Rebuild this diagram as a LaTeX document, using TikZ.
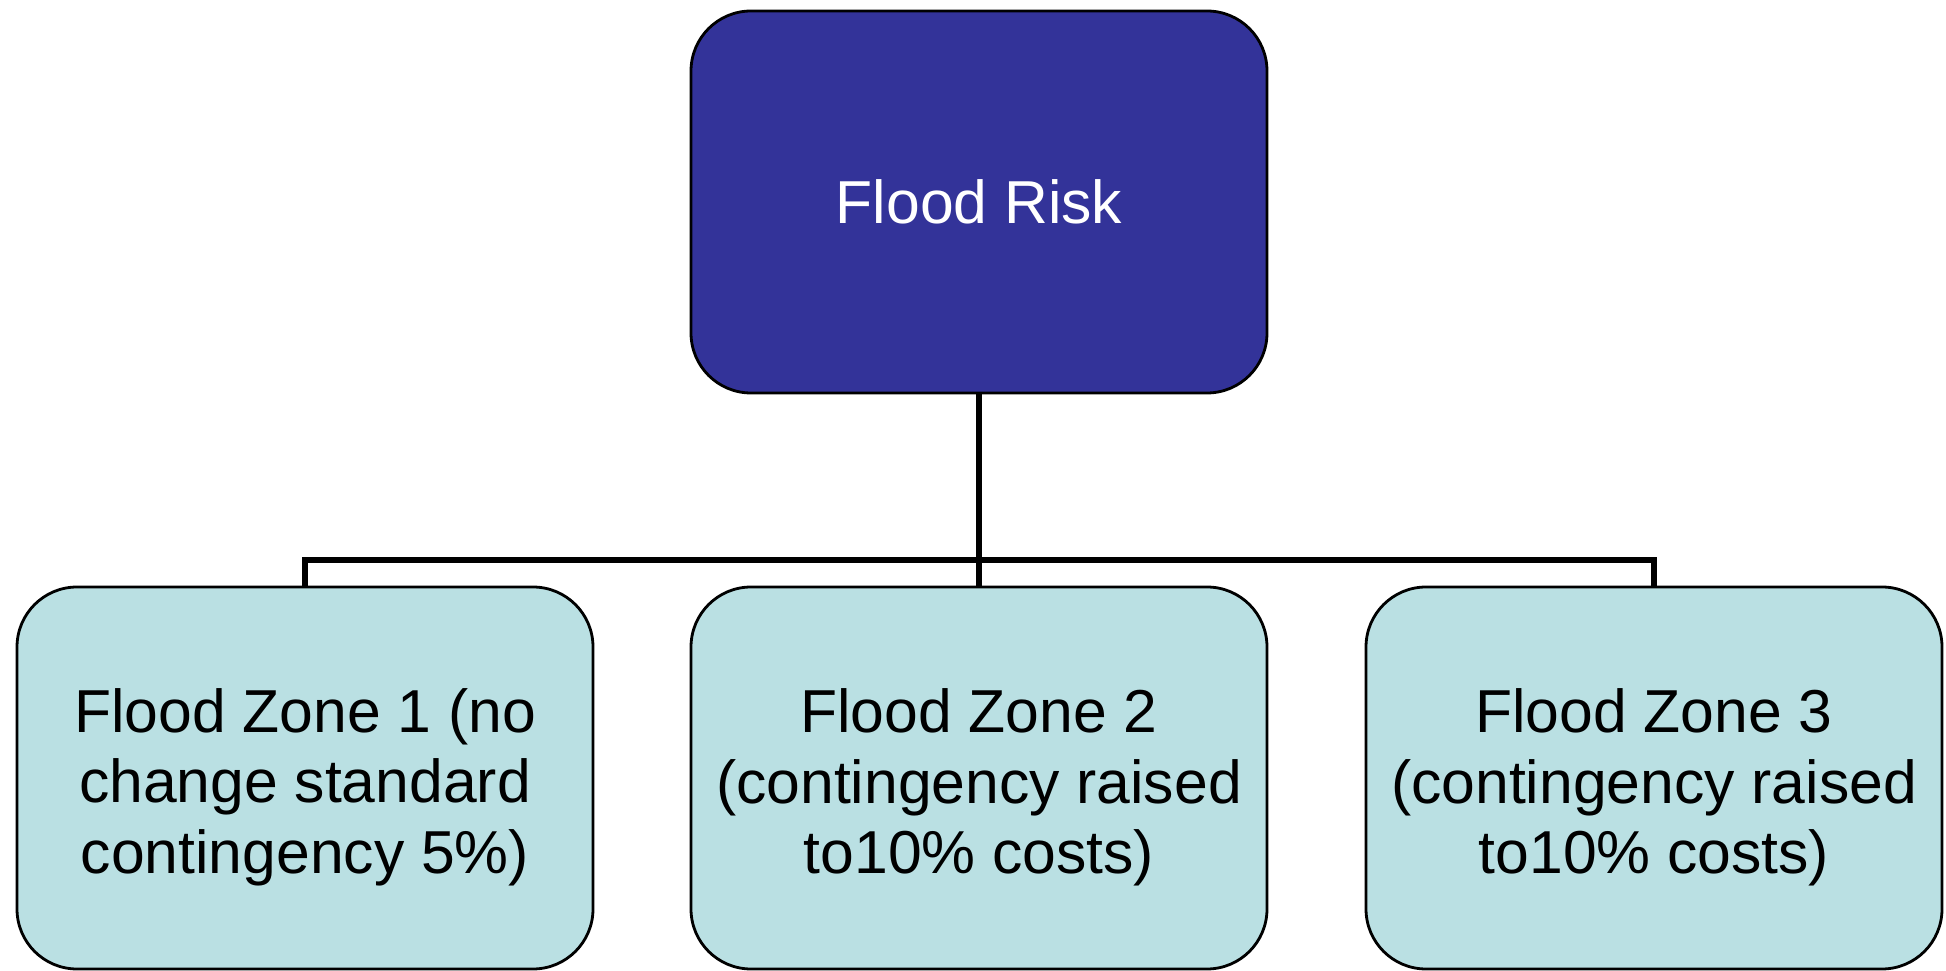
\documentclass[tikz,border=0pt]{standalone}
\usepackage{fontspec}
\setmainfont{Liberation Sans}
\definecolor{riskblue}{RGB}{51,51,153}
\definecolor{zonecyan}{RGB}{186,224,227}
\begin{document}
\begin{tikzpicture}[every node/.style={font=\fontsize{17.25}{20.1}\selectfont},
  box/.style={draw, line width=0.8pt, rounded corners=0.6cm, align=center, minimum width=5.76cm, minimum height=3.82cm},
  zone/.style={box, fill=zonecyan, text=black, text height=58pt},
  link/.style={line width=1.7pt}]
\useasboundingbox (0,0) rectangle (19.46,9.70);

\node[box, fill=riskblue, text=white] (risk) at (9.79,7.68) {Flood Risk};

\node[zone] (zone1) at (3.05,1.92) {Flood Zone 1 (no\\ change standard\\ contingency 5\%)};
\node[zone] (zone2) at (9.79,1.92) {Flood Zone 2\\ (contingency raised\\ to10\% costs)};
\node[zone] (zone3) at (16.54,1.92) {Flood Zone 3\\ (contingency raised\\ to10\% costs)};

\coordinate (bus) at (9.79,4.10);

\draw[link] (risk.south) -- (zone2.north);
\draw[link] (zone1.north) |- (bus) -| (zone3.north);
\end{tikzpicture}
\end{document}
